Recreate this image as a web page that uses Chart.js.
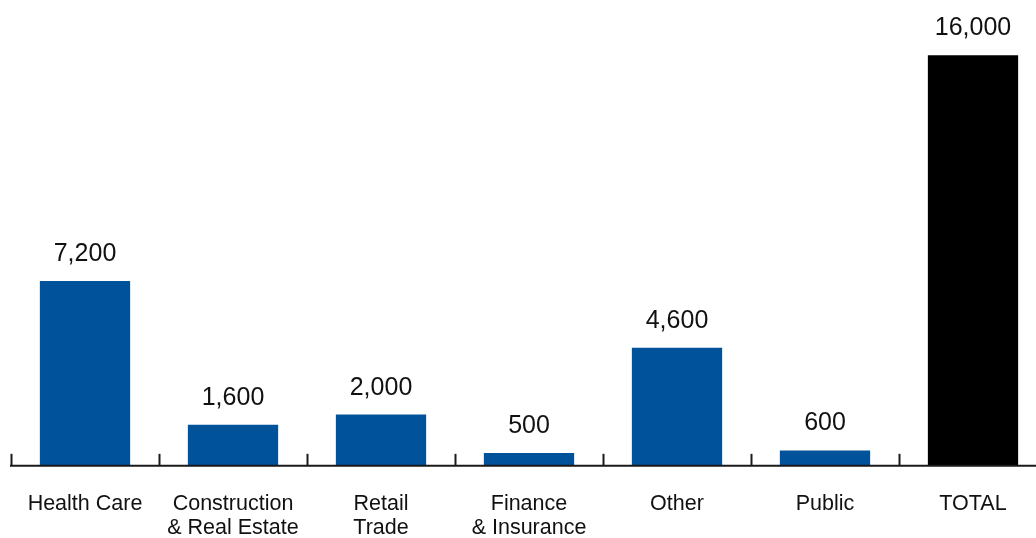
<!DOCTYPE html>
<html>
<head>
<meta charset="utf-8">
<script src="https://cdn.jsdelivr.net/npm/chart.js@4/dist/chart.umd.min.js"></script>
<style>
  html, body { margin: 0; padding: 0; background: #fff; overflow: hidden; }
  #wrap { position: relative; width: 1050px; height: 566px; }
</style>
</head>
<body>
<div id="wrap"><canvas id="jobsChart"></canvas></div>
<script>
// Data
const categories = [
  "Health Care",
  ["Construction", "& Real Estate"],
  ["Retail", "Trade"],
  ["Finance", "& Insurance"],
  "Other",
  "Public",
  "TOTAL"
];
const jobs = [7200, 1600, 2000, 500, 4600, 600, 16000];
const barColors = ["#00529b", "#00529b", "#00529b", "#00529b", "#00529b", "#00529b", "#000000"];

const FONT = "'Liberation Sans', Arial, Helvetica, sans-serif";

// Baseline, upward ticks between categories, and value labels over bars
const axisAndLabels = {
  id: "axisAndLabels",
  afterDatasetsDraw(chart) {
    const ctx = chart.ctx;
    const x = chart.scales.x;
    const y = chart.scales.y;
    const base = y.getPixelForValue(0);
    const half = (x.getPixelForValue(1) - x.getPixelForValue(0)) / 2;

    ctx.save();
    ctx.strokeStyle = "#1a1a1a";
    ctx.lineWidth = 2;
    ctx.beginPath();
    ctx.moveTo(chart.chartArea.left - 1, base);
    ctx.lineTo(chart.chartArea.right, base);
    ctx.stroke();

    for (let i = 0; i < categories.length; i++) {
      const tx = Math.round(x.getPixelForValue(i) - half) + 0.5;
      ctx.beginPath();
      ctx.moveTo(tx, base);
      ctx.lineTo(tx, base - 12);
      ctx.stroke();
    }

    ctx.fillStyle = "#111";
    ctx.font = "25px " + FONT;
    ctx.textAlign = "center";
    ctx.textBaseline = "alphabetic";
    chart.getDatasetMeta(0).data.forEach((bar, i) => {
      ctx.fillText(jobs[i].toLocaleString("en-US"), bar.x, bar.y - 20);
    });
    ctx.restore();
  }
};

new Chart(document.getElementById("jobsChart"), {
  type: "bar",
  data: {
    labels: categories,
    datasets: [{
      data: jobs,
      backgroundColor: barColors,
      barPercentage: 0.61,
      categoryPercentage: 1
    }]
  },
  options: {
    responsive: true,
    maintainAspectRatio: false,
    animation: false,
    layout: { padding: { left: 11, right: 3, top: 4, bottom: 0 } },
    plugins: { legend: { display: false }, tooltip: { enabled: false } },
    scales: {
      x: {
        grid: { display: false, drawTicks: false },
        border: { display: false },
        ticks: {
          color: "#111",
          padding: 26,
          maxRotation: 0,
          autoSkip: false,
          font: { family: FONT, size: 21.5, lineHeight: 1.12 }
        }
      },
      y: {
        display: false,
        min: 0,
        max: 18000
      }
    }
  },
  plugins: [axisAndLabels]
});
</script>
</body>
</html>
